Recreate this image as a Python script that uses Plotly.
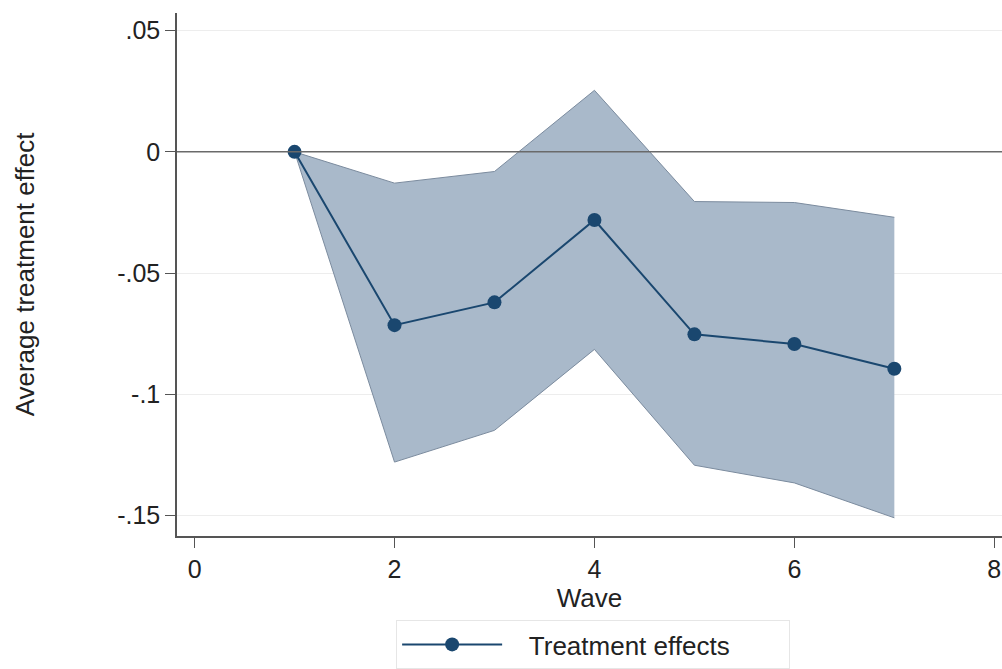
import plotly.graph_objects as go

waves = [1, 2, 3, 4, 5, 6, 7]
effects = [0.0, -0.0715, -0.0621, -0.0281, -0.0753, -0.0793, -0.0895]
ci_upper = [0.0, -0.0129, -0.0081, 0.0254, -0.0205, -0.0209, -0.0270]
ci_lower = [0.0, -0.1280, -0.1149, -0.0815, -0.1293, -0.1366, -0.1510]

x_ticks = [0, 2, 4, 6, 8]
y_ticks = [0.05, 0, -0.05, -0.1, -0.15]
y_ticktext = [".05", "0", "-.05", "-.1", "-.15"]

navy = "#1a476f"
edge = "#7b8b9e"
fig = go.Figure()
fig.add_trace(go.Scatter(x=waves, y=ci_upper, mode="lines",
                         line=dict(color=edge, width=1), showlegend=False, hoverinfo="skip"))
fig.add_trace(go.Scatter(x=waves, y=ci_lower, mode="lines", fill="tonexty",
                         fillcolor="#a9b9ca", line=dict(color=edge, width=1),
                         showlegend=False, hoverinfo="skip"))
fig.add_trace(go.Scatter(x=waves, y=effects, mode="lines+markers",
                         name="\u00a0\u00a0\u00a0Treatment effects",
                         line=dict(color=navy, width=2),
                         marker=dict(color=navy, size=14)))

fig.add_hline(y=0, line=dict(color="#6a6a6a", width=1.5), layer="above")

fig.update_layout(
    width=1002, height=669,
    margin=dict(l=177, r=0, t=13, b=133),
    paper_bgcolor="white", plot_bgcolor="white",
    font=dict(family="Liberation Sans, Arial, sans-serif", size=25, color="#222"),
    showlegend=True,
    legend=dict(orientation="h", x=0.5044, xanchor="center", y=-0.255, yanchor="bottom",
                bordercolor="#e6e6e6", borderwidth=1, font=dict(size=26),
                itemwidth=100, entrywidth=277),
    xaxis=dict(range=[-0.176, 8.077], tickvals=x_ticks, showgrid=False, zeroline=False,
               showline=True, linecolor="#555", linewidth=1.5, ticks="outside",
               ticklen=10, tickcolor="#555", tickfont=dict(size=25),
               title=dict(text="Wave", standoff=2, font=dict(size=26))),
    yaxis=dict(range=[-0.1585, 0.0573], tickvals=y_ticks, ticktext=y_ticktext,
               showgrid=True, gridcolor="#ededed", zeroline=False,
               showline=True, linecolor="#555", linewidth=1.5, ticks="outside",
               ticklen=10, tickcolor="#555", tickfont=dict(size=25),
               title=dict(text="Average treatment effect", standoff=75, font=dict(size=26))),
)
fig.write_html("out.html")
